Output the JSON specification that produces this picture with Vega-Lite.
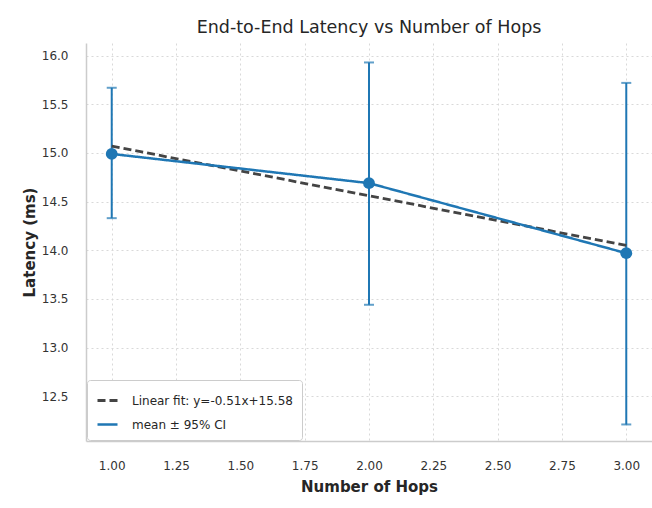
{
  "$schema": "https://vega.github.io/schema/vega-lite/v6.json",
  "autosize": {"type": "none"},
  "padding": {"left": 86, "top": 43, "right": 0, "bottom": 67},
  "width": 566,
  "height": 398,
  "background": "white",
  "config": {
    "font": "DejaVu Sans",
    "view": {"stroke": null},
    "axis": {
      "domainColor": "#cccccc",
      "domainWidth": 1.5,
      "ticks": false,
      "grid": true,
      "gridColor": "#d9d9d9",
      "gridDash": [2, 3],
      "gridWidth": 1,
      "labelFont": "DejaVu Sans",
      "labelFontSize": 12,
      "labelColor": "#333333",
      "titleFont": "DejaVu Sans",
      "titleFontSize": 15,
      "titleFontWeight": "bold",
      "titleColor": "#262626"
    },
    "title": {"font": "DejaVu Sans", "fontSize": 17.5, "fontWeight": "normal", "color": "#262626", "offset": 7},
    "legend": {
      "orient": "bottom-left",
      "offset": 1,
      "padding": 9,
      "strokeColor": "#cccccc",
      "fillColor": "white",
      "cornerRadius": 3,
      "labelFont": "DejaVu Sans",
      "labelFontSize": 12,
      "labelColor": "#262626",
      "labelLimit": 0,
      "symbolType": "stroke",
      "symbolStrokeWidth": 2.6,
      "symbolSize": 400,
      "labelOffset": 13,
      "rowPadding": 6
    }
  },
  "title": "End-to-End Latency vs Number of Hops",
  "datasets": {
    "means": [
      {"hops": 1, "mean": 14.99, "lo": 14.33, "hi": 15.67},
      {"hops": 2, "mean": 14.69, "lo": 13.44, "hi": 15.93},
      {"hops": 3, "mean": 13.97, "lo": 12.21, "hi": 15.72}
    ],
    "lines": [
      {"hops": 1, "value": 15.07, "series": "Linear fit: y=-0.51x+15.58"},
      {"hops": 3, "value": 14.05, "series": "Linear fit: y=-0.51x+15.58"},
      {"hops": 1, "value": 14.99, "series": "mean ± 95% CI"},
      {"hops": 2, "value": 14.69, "series": "mean ± 95% CI"},
      {"hops": 3, "value": 13.97, "series": "mean ± 95% CI"}
    ]
  },
  "layer": [
    {
      "data": {"name": "means"},
      "mark": {"type": "rule", "color": "#1f77b4", "strokeWidth": 2},
      "encoding": {
        "x": {"field": "hops", "type": "quantitative", "scale": {"domain": [0.9, 3.1], "nice": false, "zero": false},
              "axis": {"values": [1, 1.25, 1.5, 1.75, 2, 2.25, 2.5, 2.75, 3], "format": ".2f", "labelPadding": 19, "title": "Number of Hops", "titlePadding": 8}},
        "y": {"field": "lo", "type": "quantitative", "scale": {"domain": [12.04, 16.13], "nice": false, "zero": false},
              "axis": {"values": [12.5, 13, 13.5, 14, 14.5, 15, 15.5, 16], "format": ".1f", "labelPadding": 18, "title": "Latency (ms)", "titlePadding": 4}},
        "y2": {"field": "hi"}
      }
    },
    {
      "data": {"name": "means"},
      "mark": {"type": "tick", "orient": "horizontal", "color": "#1f77b4", "size": 10, "thickness": 2},
      "encoding": {
        "x": {"field": "hops", "type": "quantitative"},
        "y": {"field": "hi", "type": "quantitative"}
      }
    },
    {
      "data": {"name": "means"},
      "mark": {"type": "tick", "orient": "horizontal", "color": "#1f77b4", "size": 10, "thickness": 2},
      "encoding": {
        "x": {"field": "hops", "type": "quantitative"},
        "y": {"field": "lo", "type": "quantitative"}
      }
    },
    {
      "data": {"name": "lines"},
      "mark": {"type": "line"},
      "encoding": {
        "x": {"field": "hops", "type": "quantitative"},
        "y": {"field": "value", "type": "quantitative"},
        "color": {"field": "series", "type": "nominal",
                  "scale": {"domain": ["Linear fit: y=-0.51x+15.58", "mean ± 95% CI"], "range": ["#444444", "#1f77b4"]},
                  "legend": {"title": null}},
        "strokeDash": {"field": "series", "type": "nominal",
                       "scale": {"domain": ["Linear fit: y=-0.51x+15.58", "mean ± 95% CI"], "range": [[8, 4], [1, 0]]},
                       "legend": {"title": null}},
        "strokeWidth": {"field": "series", "type": "nominal",
                        "scale": {"domain": ["Linear fit: y=-0.51x+15.58", "mean ± 95% CI"], "range": [2.8, 2.5]},
                        "legend": null}
      }
    },
    {
      "data": {"name": "means"},
      "mark": {"type": "circle", "color": "#1f77b4", "opacity": 1, "size": 140},
      "encoding": {
        "x": {"field": "hops", "type": "quantitative"},
        "y": {"field": "mean", "type": "quantitative"}
      }
    }
  ]
}
